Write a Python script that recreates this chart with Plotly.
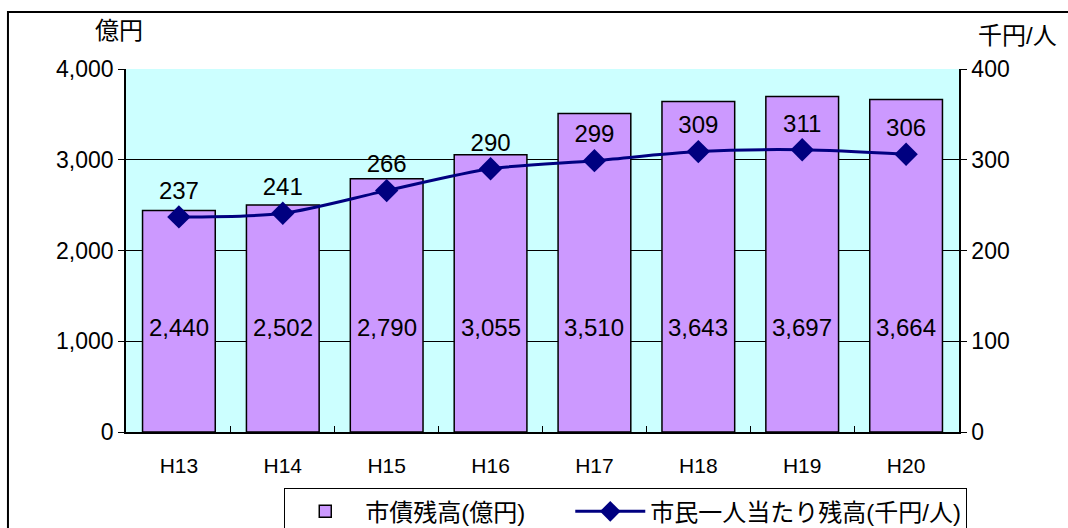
import plotly.graph_objects as go

years = ['H13', 'H14', 'H15', 'H16', 'H17', 'H18', 'H19', 'H20']
debt = [2440, 2502, 2790, 3055, 3510, 3643, 3697, 3664]          # 億円
per_capita = [237, 241, 266, 290, 299, 309, 311, 306]            # 千円/人

FONT = 'Liberation Sans, Arial, Noto Sans CJK JP'
BAR_LABEL_Y = 1150  # bar values all sit on one row in the original

fig = go.Figure()

fig.add_trace(go.Bar(
    x=years, y=debt,
    name='市債残高(億円)' + '\u00a0' * 6,
    marker=dict(color='#CC99FF', line=dict(color='black', width=1.5)),
))

fig.add_trace(go.Scatter(
    x=years, y=per_capita,
    name='市民一人当たり残高(千円/人)',
    yaxis='y2',
    mode='lines+markers+text',
    line=dict(color='#000080', width=3, shape='spline', smoothing=0.8),
    marker=dict(symbol='diamond', size=18, color='#000080'),
    text=[str(v) for v in per_capita],
    textposition='top center',
    textfont=dict(size=24, color='black', family=FONT),
))

bar_labels = [dict(x=yr, y=BAR_LABEL_Y, xref='x', yref='y', text=f'{v:,}',
                   showarrow=False, font=dict(size=24, color='black'))
              for yr, v in zip(years, debt)]

fig.update_layout(
    width=1068, height=528,
    margin=dict(l=126, r=109, t=69, b=96, autoexpand=False),
    paper_bgcolor='white',
    plot_bgcolor='#CCFFFF',
    font=dict(family=FONT, size=20, color='black'),
    bargap=0.3,
    showlegend=True,
    xaxis=dict(
        showgrid=False, showline=True, linecolor='black', linewidth=1.5,
        ticks='inside', ticklen=6, tickcolor='black', tickson='boundaries',
        tickfont=dict(size=21), automargin=False, ticklabelstandoff=14,
    ),
    yaxis=dict(
        range=[0, 4000], dtick=1000, tickformat=',',
        showgrid=True, gridcolor='black', gridwidth=1,
        showline=True, linecolor='black', linewidth=1.5,
        ticks='outside', ticklen=6, tickcolor='black',
        tickfont=dict(size=23), zeroline=False, automargin=False,
    ),
    yaxis2=dict(
        range=[0, 400], dtick=100, overlaying='y', side='right',
        showgrid=False, showline=True, linecolor='black', linewidth=1.5,
        ticks='outside', ticklen=6, tickcolor='black',
        tickfont=dict(size=23), zeroline=False, automargin=False,
    ),
    legend=dict(
        orientation='h', x=0.19, xanchor='left', y=-0.155, yanchor='top',
        bordercolor='black', borderwidth=1, bgcolor='white',
        font=dict(size=24), itemwidth=70,
    ),
    annotations=bar_labels + [
        dict(text='億円', xref='paper', yref='paper', x=0.023, y=1.062,
             xanchor='right', yanchor='bottom', showarrow=False, font=dict(size=24)),
        dict(text='千円/人', xref='paper', yref='paper', x=1.02, y=1.05,
             xanchor='left', yanchor='bottom', showarrow=False, font=dict(size=24)),
    ],
    shapes=[
        dict(type='rect', xref='paper', yref='paper',
             x0=-0.1417, x1=1.14, y0=-0.30, y1=1.157,
             line=dict(color='black', width=2), layer='below'),
    ],
)

fig.write_html('out.html', config={'displayModeBar': False},
               post_script="document.body.style.margin='0';")
